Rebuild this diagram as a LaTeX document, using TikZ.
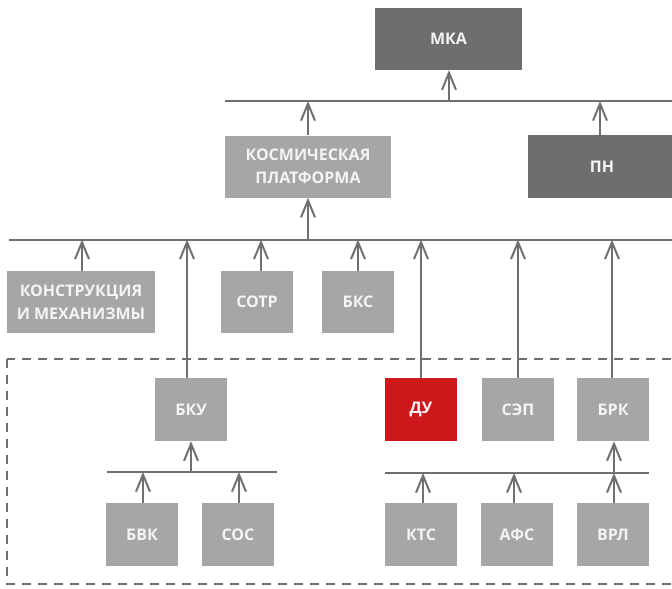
\documentclass[tikz,border=0pt]{standalone}
\usepackage{fontspec}
\setmainfont{Open Sans}
\usetikzlibrary{arrows.meta}
\definecolor{boxlight}{HTML}{A6A6A8}
\definecolor{boxdark}{HTML}{6E6E6E}
\definecolor{boxred}{HTML}{CD171B}
\definecolor{linegray}{HTML}{707070}
\definecolor{txt}{HTML}{F4F4F4}
\tikzset{
  blk/.style={rectangle, fill=boxlight, text=txt, minimum width=72pt, minimum height=63pt,
    inner sep=0pt, align=center, font=\fontsize{16}{23}\selectfont\bfseries},
  darkblk/.style={blk, fill=boxdark},
  redblk/.style={blk, fill=boxred},
  bus/.style={draw=linegray, line width=2pt},
  conn/.style={draw=linegray, line width=2pt, -{Straight Barb[length=17pt,width=14pt]}},
  plain/.style={draw=linegray, line width=2pt},
  frame/.style={draw=linegray, line width=2pt, dash pattern=on 9pt off 7pt},
}
\begin{document}
\begin{tikzpicture}[x=1pt,y=-1pt]
\useasboundingbox (0,0) rectangle (672,589);
\begin{scope}
\clip (0,0) rectangle (672,589);
% nodes
\node[darkblk, minimum width=147pt, minimum height=62pt] (mka) at (448.5,39) {МКА};
\node[blk, minimum width=166pt, minimum height=62pt] (kp) at (308,166.5) {КОСМИЧЕСКАЯ\\ПЛАТФОРМА};
\node[darkblk, minimum width=148pt, minimum height=63pt] (pn) at (602,166.5) {ПН};
\node[blk, minimum width=148pt, minimum height=62pt] (konstr) at (81,302) {КОНСТРУКЦИЯ\\И МЕХАНИЗМЫ};
\node[blk, minimum height=62pt] (sotr) at (257,302) {СОТР};
\node[blk, minimum height=62pt] (bks) at (358,302) {БКС};
\node[blk] (bku) at (191,409.5) {БКУ};
\node[redblk] (du) at (421,409.5) {ДУ};
\node[blk] (sep) at (518,409.5) {СЭП};
\node[blk] (brk) at (613,409.5) {БРК};
\node[blk] (bvk) at (142,534.5) {БВК};
\node[blk] (sos) at (238,534.5) {СОС};
\node[blk] (kts) at (421,534.5) {КТС};
\node[blk] (afs) at (517,534.5) {АФС};
\node[blk] (vrl) at (613,534.5) {ВРЛ};
% dashed frame
\draw[frame] (7,359) rectangle (690,584);
% buses
\coordinate (b1l) at (225,101); \coordinate (b1r) at (680,101);
\coordinate (b2l) at (9,239.5); \coordinate (b2r) at (680,239.5);
\coordinate (b3l) at (107,472); \coordinate (b3r) at (277,472);
\coordinate (b4l) at (385,473); \coordinate (b4r) at (649,473);
\draw[bus] (b1l) -- (b1r);
\draw[bus] (b2l) -- (b2r);
\draw[bus] (b3l) -- (b3r);
\draw[bus] (b4l) -- (b4r);
% level 1
\draw[conn] (449,101) -- (mka.south -| 449,0);
\draw[conn] (kp.north) -- (kp.north |- b1l);
\draw[conn] (pn.north -| 600,0) -- (600,101);
% level 2
\draw[conn] (308,239.5) -- (kp.south);
\draw[conn] (konstr.north -| 82,0) -- (82,239.5);
\draw[conn] (bku.north -| 187,0) -- (187,239.5);
\draw[conn] (sotr.north -| 261,0) -- (261,239.5);
\draw[conn] (bks.north) -- (358,239.5);
\draw[conn] (du.north) -- (421,239.5);
\draw[conn] (sep.north) -- (518,239.5);
\draw[conn] (brk.north -| 612,0) -- (612,239.5);
% level 3
\draw[conn] (191,472) -- (bku.south);
\draw[conn] (bvk.north -| 143,0) -- (143,472);
\draw[conn] (sos.north -| 239,0) -- (239,472);
\draw[conn] (kts.north -| 423,0) -- (423,473);
\draw[conn] (afs.north -| 514,0) -- (514,473);
\draw[conn] (vrl.north -| 614,0) -- (614,473);
\draw[conn] (614,473) -- (brk.south -| 614,0);
\end{scope}
\end{tikzpicture}
\end{document}
